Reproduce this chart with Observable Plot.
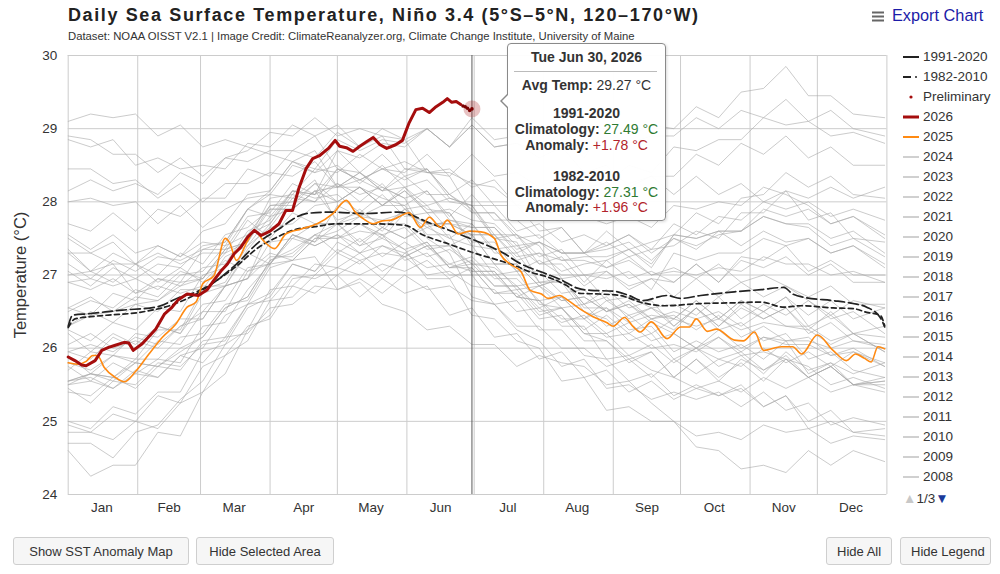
<!DOCTYPE html>
<html>
<head>
<meta charset="utf-8">
<script src="https://cdn.jsdelivr.net/npm/d3@7"></script>
<script src="https://cdn.jsdelivr.net/npm/@observablehq/plot@0.6"></script>
<style>
  body { margin: 0; background: #fff; font-family: "Liberation Sans", Arial, Helvetica, sans-serif; color: #333; }
  #page { position: relative; width: 1000px; height: 574px; overflow: hidden; }
  #chart { position: absolute; left: 0; top: 0; }
  .title { position: absolute; left: 68px; top: 5px; font-size: 18px; font-weight: bold; color: #222; letter-spacing: 1.62px; white-space: nowrap; }
  .subtitle { position: absolute; left: 68px; top: 30px; font-size: 11.3px; color: #333; white-space: nowrap; }
  .export { position: absolute; left: 872px; top: 6px; font-size: 16.3px; color: #1c1ca8; white-space: nowrap; }
  .export svg { vertical-align: -1px; margin-right: 8px; }
  .ylabel { position: absolute; left: 20px; top: 275px; transform: translate(-50%, -50%) rotate(-90deg); font-size: 16.5px; color: #333; white-space: nowrap; }
  .legend { position: absolute; left: 903px; top: 47px; font-size: 13.5px; color: #333; }
  .legend .row { height: 20px; line-height: 20px; white-space: nowrap; }
  .legend svg { vertical-align: middle; margin-right: 4px; }
  .pager { position: absolute; left: 903px; top: 491px; font-size: 13.5px; color: #333; white-space: nowrap; }
  .tip { position: absolute; left: 507px; top: 43px; width: 157px; height: 176px; background: rgba(255,255,255,0.96);
         border: 1px solid #8a8a8a; border-radius: 4px; box-shadow: 1px 1px 3px rgba(0,0,0,0.15); }
  .tip .ln { position: absolute; left: 0; width: 157px; text-align: center; font-size: 14px; white-space: nowrap; color: #333; }
  .tip b { color: #333; }
  .tip .hr { position: absolute; left: 6px; width: 143px; top: 27px; border-top: 1px solid #bbb; }
  .arrow { position: absolute; left: 500px; top: 93px; width: 0; height: 0; border-top: 8px solid transparent; border-bottom: 8px solid transparent; border-right: 8px solid #8a8a8a; }
  .arrow2 { position: absolute; left: 502px; top: 94px; width: 0; height: 0; border-top: 7px solid transparent; border-bottom: 7px solid transparent; border-right: 7px solid #fff; }
  .btn { position: absolute; top: 537px; height: 28px; line-height: 28px; padding: 0 10px; background: #f6f6f6; border: 1px solid #cfcfcf;
         border-radius: 3px; font-size: 13px; color: #333; white-space: nowrap; box-sizing: border-box; text-align: center; }
</style>
</head>
<body>
<div id="page">
  <div id="chart"></div>
  <div class="title">Daily Sea Surface Temperature, Niño 3.4 (5°S–5°N, 120–170°W)</div>
  <div class="subtitle">Dataset: NOAA OISST V2.1 | Image Credit: ClimateReanalyzer.org, Climate Change Institute, University of Maine</div>
  <div class="export"><svg width="12" height="11"><rect x="0" y="0.5" width="12" height="2" fill="#666"/><rect x="0" y="4.5" width="12" height="2" fill="#666"/><rect x="0" y="8.5" width="12" height="2" fill="#666"/></svg>Export Chart</div>
  <div class="ylabel">Temperature (°C)</div>
  <div class="legend" id="legend"></div>
  <div class="pager"><span style="color:#c8c8c8">▲</span>1/3<span style="color:#1a3a9a">▼</span></div>
  <div class="arrow"></div>
  <div class="tip" id="tip"></div>
  <div class="arrow2"></div>
  <div class="btn" style="left:13px; width:176px">Show SST Anomaly Map</div>
  <div class="btn" style="left:196px; width:138px">Hide Selected Area</div>
  <div class="btn" style="left:826px; width:66px">Hide All</div>
  <div class="btn" style="left:900px; width:91px">Hide Legend</div>
</div>
<script>
// ---- Axis ticks (day of year, Jan 1 = 0) ----
const monthStarts = [0, 31, 59, 90, 120, 151, 181, 212, 243, 273, 304, 334, 365];
const monthMids = [15, 45, 74, 105, 135, 166, 196, 227, 258, 288, 319, 349];
const monthNames = ["Jan", "Feb", "Mar", "Apr", "May", "Jun", "Jul", "Aug", "Sep", "Oct", "Nov", "Dec"];
const tempTicks = [24, 25, 26, 27, 28, 29, 30];

// ---- 2026 (current year, through Jun 30; last days preliminary) ----
const days2026 = [0, 3, 6, 8, 12, 15, 18, 21, 25, 27, 29, 33, 39, 43, 46, 49, 53, 58, 62, 65, 68, 71, 74, 77, 80, 83, 86, 90, 94, 97, 100, 103, 106, 109, 112, 116, 119, 121, 124, 127, 130, 133, 136, 139, 142, 146, 149, 152, 155, 158, 161, 164, 167, 169, 171, 173, 175, 176, 177, 178, 179, 180];
const sst2026 = [25.88, 25.83, 25.77, 25.76, 25.83, 25.97, 26.01, 26.04, 26.08, 26.07, 25.97, 26.06, 26.26, 26.47, 26.55, 26.66, 26.74, 26.72, 26.8, 26.93, 27.05, 27.15, 27.29, 27.38, 27.52, 27.61, 27.54, 27.6, 27.7, 27.88, 27.88, 28.2, 28.45, 28.59, 28.63, 28.73, 28.84, 28.76, 28.74, 28.69, 28.76, 28.82, 28.88, 28.78, 28.73, 28.78, 28.84, 29.08, 29.26, 29.28, 29.22, 29.3, 29.36, 29.41, 29.36, 29.37, 29.33, 29.31, 29.3, 29.28, 29.25, 29.27];
const preliminaryFrom = 176;

// ---- 2025 ----
const days2025 = [0, 4, 8, 11, 13, 16, 21, 25, 30, 36, 42, 48, 53, 57, 60, 65, 70, 72, 75, 80, 83, 87, 92, 97, 104, 111, 118, 124, 128, 132, 136, 140, 144, 152, 157, 161, 166, 169, 174, 179, 184, 190, 193, 197, 202, 206, 211, 214, 219, 223, 229, 234, 240, 243, 248, 252, 255, 260, 267, 273, 277, 280, 285, 289, 297, 301, 306, 310, 318, 323, 327, 334, 341, 347, 351, 355, 358, 361, 364];
const sst2025 = [25.8, 25.78, 25.82, 25.9, 25.9, 25.74, 25.6, 25.54, 25.68, 25.92, 26.15, 26.33, 26.56, 26.63, 26.88, 26.99, 27.5, 27.44, 27.2, 27.47, 27.61, 27.47, 27.36, 27.56, 27.63, 27.7, 27.84, 28.02, 27.86, 27.76, 27.7, 27.74, 27.75, 27.85, 27.65, 27.79, 27.65, 27.75, 27.56, 27.6, 27.59, 27.5, 27.27, 27.15, 27.04, 26.79, 26.74, 26.68, 26.72, 26.65, 26.52, 26.43, 26.35, 26.3, 26.42, 26.29, 26.22, 26.36, 26.13, 26.29, 26.29, 26.4, 26.23, 26.26, 26.11, 26.1, 26.22, 25.97, 26.02, 26.02, 25.92, 26.18, 25.97, 25.83, 25.92, 25.86, 25.81, 26.02, 25.99];

// ---- Climatologies ----
const daysClim9120 = [0, 2, 9, 24, 39, 50, 58, 65, 75, 85, 95, 100, 106, 117, 132, 147, 162, 180, 194, 202, 211, 220, 227, 233, 243, 250, 256, 267, 273, 282, 297, 309, 319, 323, 329, 341, 350, 356, 362, 364];
const clim9120 = [26.3, 26.45, 26.47, 26.52, 26.56, 26.7, 26.78, 26.9, 27.15, 27.45, 27.65, 27.76, 27.84, 27.86, 27.84, 27.86, 27.7, 27.49, 27.3, 27.15, 27.04, 26.93, 26.82, 26.79, 26.78, 26.72, 26.65, 26.72, 26.68, 26.72, 26.77, 26.8, 26.83, 26.74, 26.69, 26.65, 26.61, 26.56, 26.42, 26.29];
const daysClim8210 = [0, 3, 10, 17, 32, 47, 57, 65, 75, 85, 92, 101, 110, 120, 134, 150, 158, 170, 180, 192, 199, 206, 214, 222, 228, 237, 246, 256, 266, 282, 297, 309, 319, 327, 341, 350, 356, 362, 364];
const clim8210 = [26.28, 26.4, 26.43, 26.45, 26.49, 26.6, 26.74, 26.9, 27.12, 27.38, 27.5, 27.62, 27.66, 27.7, 27.7, 27.68, 27.55, 27.42, 27.31, 27.2, 27.13, 27.04, 26.97, 26.86, 26.75, 26.74, 26.72, 26.62, 26.58, 26.61, 26.62, 26.63, 26.56, 26.58, 26.55, 26.54, 26.49, 26.45, 26.31];

// ---- Earlier years, sampled every 10 days (last sample Dec 31) ----
const greyDays = [0, 10, 20, 30, 40, 50, 60, 70, 80, 90, 100, 110, 120, 130, 140, 150, 160, 170, 180, 190, 200, 210, 220, 230, 240, 250, 260, 270, 280, 290, 300, 310, 320, 330, 340, 350, 364];
const sst1982 = [26.3,26.45,26.5,26.6,26.65,26.85,26.95,27.3,27.45,28.05,28.1,28.45,28.4,28.65,28.45,28.55,28.4,28.45,28.2,28.3,27.95,28.15,27.9,28.2,28.25,28.5,28.4,28.75,28.7,28.85,28.85,29.15,29.05,29.1,28.9,28.95,28.8];
const sst1983 = [28.85,28.75,28.85,28.5,28.6,28.45,28.5,28.45,28.8,28.75,29.05,28.9,29.05,28.75,28.9,28.45,28.45,28.1,27.9,27.5,27.45,26.9,26.9,26.5,26.4,26.1,26.2,25.85,26.0,25.75,25.9,25.65,25.95,25.7,25.8,25.65,25.8];
const sst1984 = [25.7,25.95,25.9,26.2,26.15,26.4,26.4,26.85,26.95,27.25,27.25,27.55,27.3,27.5,27.25,27.45,27.25,27.35,27.15,27.1,26.85,26.9,26.65,26.7,26.5,26.6,26.35,26.2,26.0,26.15,25.9,25.95,25.85,25.75,25.5,25.6,25.45];
const sst1985 = [25.45,25.25,25.55,25.5,25.8,25.75,26.05,26.1,26.6,26.65,27.0,26.95,27.1,27.0,27.15,27.05,27.2,26.95,27.1,26.75,26.8,26.45,26.55,26.25,26.45,26.2,26.4,26.25,26.55,26.3,26.55,26.4,26.55,26.2,26.35,26.1,26.0];
const sst1986 = [25.95,26.05,25.95,26.15,26.05,26.3,26.4,26.85,26.95,27.45,27.5,27.7,27.7,27.8,27.75,27.85,27.65,27.75,27.65,27.65,27.35,27.45,27.3,27.3,27.4,27.55,27.35,27.7,27.55,27.8,27.75,28.0,27.9,28.0,27.8,27.9,27.75];
const sst1987 = [27.7,27.6,27.85,27.6,27.9,27.8,28.05,28.05,28.45,28.35,28.7,28.6,28.95,28.75,29.0,28.85,29.0,28.75,29.05,28.75,28.8,28.6,28.75,28.4,28.5,28.2,28.35,28.1,28.35,28.1,28.25,28.0,28.15,27.75,27.85,27.5,27.45];
const sst1988 = [27.3,27.3,27.15,27.15,26.9,27.1,26.9,27.2,27.05,27.3,27.2,27.25,26.8,26.9,26.6,26.5,26.25,26.3,26.05,26.05,25.75,25.9,25.8,25.75,25.5,25.55,25.25,25.0,24.65,24.6,24.35,24.4,24.3,24.6,24.4,24.6,24.45];
const sst1989 = [24.6,24.25,24.4,24.4,24.85,24.8,25.4,25.65,26.25,26.45,26.95,27.0,27.3,27.15,27.4,27.25,27.4,27.15,27.25,26.95,26.95,26.65,26.7,26.4,26.65,26.45,26.55,26.4,26.65,26.4,26.65,26.5,26.7,26.45,26.65,26.4,26.55];
const sst1990 = [26.5,26.65,26.55,26.8,26.7,27.0,27.05,27.4,27.55,27.95,27.95,28.25,28.0,28.2,27.95,28.15,27.85,27.9,27.75,27.7,27.4,27.45,27.2,27.2,27.1,27.2,27.0,27.05,27.0,27.1,27.05,27.25,27.15,27.15,27.0,27.05,26.9];
const sst1991 = [26.9,26.8,26.95,26.75,26.95,26.85,27.1,27.15,27.6,27.75,28.15,28.1,28.45,28.3,28.45,28.3,28.45,28.1,28.3,27.95,27.95,27.6,27.65,27.3,27.45,27.25,27.35,27.4,27.6,27.5,27.85,27.85,28.15,28.05,28.2,28.05,28.2];
const sst1992 = [28.15,28.3,28.15,28.25,28.1,28.4,28.25,28.6,28.7,28.95,28.9,29.15,28.9,29.0,28.9,28.85,28.4,28.35,27.85,27.85,27.55,27.4,26.95,27.0,26.65,26.7,26.55,26.6,26.45,26.7,26.4,26.6,26.45,26.65,26.45,26.65,26.55];
const sst1993 = [26.55,26.45,26.75,26.65,26.95,26.9,27.35,27.45,27.9,28.1,28.5,28.4,28.7,28.4,28.65,28.35,28.45,28.05,27.95,27.55,27.55,27.25,27.35,27.0,27.05,26.85,26.95,26.7,26.95,26.7,26.9,26.7,26.85,26.7,26.85,26.6,26.6];
const sst1994 = [26.55,26.7,26.5,26.7,26.65,26.9,26.95,27.35,27.45,27.95,28.0,28.25,28.2,28.4,28.15,28.35,28.1,28.1,27.85,27.85,27.5,27.55,27.3,27.3,27.35,27.45,27.2,27.5,27.4,27.55,27.6,27.9,27.8,27.9,27.7,27.8,27.55];
const sst1995 = [27.55,27.35,27.55,27.3,27.4,27.25,27.45,27.4,27.9,27.8,28.15,28.05,28.1,27.85,28.1,27.8,27.85,27.5,27.4,27.0,27.05,26.6,26.55,26.2,26.1,25.8,25.95,25.6,25.85,25.55,25.85,25.7,25.85,25.6,25.75,25.5,25.55];
const sst1996 = [25.5,25.65,25.6,25.8,25.75,25.95,26.15,26.55,26.7,27.2,27.3,27.55,27.5,27.6,27.55,27.65,27.35,27.4,27.15,27.15,26.8,26.85,26.55,26.6,26.3,26.45,26.2,26.4,26.3,26.4,26.25,26.35,26.3,26.3,26.1,26.2,25.95];
const sst1997 = [25.95,25.85,26.15,26.0,26.3,26.2,26.75,26.85,27.35,27.7,28.15,28.1,28.7,28.6,28.8,28.75,29.0,28.75,29.15,28.85,28.9,28.7,28.95,28.65,28.95,28.8,28.9,28.9,29.15,29.0,29.25,29.15,29.4,29.1,29.25,29.0,28.9];
const sst1998 = [28.9,28.85,28.65,28.65,28.4,28.6,28.35,28.6,28.55,28.7,28.7,28.9,28.45,28.4,28.2,28.05,27.5,27.3,26.7,26.6,26.25,26.1,25.75,25.85,25.45,25.5,25.3,25.4,25.3,25.4,25.2,25.4,25.15,25.25,24.95,25.05,24.95];
const sst1999 = [24.95,24.85,25.1,25.0,25.35,25.25,25.75,25.9,26.3,26.4,26.85,26.75,27.0,26.7,26.95,26.75,26.85,26.45,26.55,26.15,26.2,25.85,25.95,25.6,25.7,25.4,25.55,25.3,25.45,25.35,25.5,25.2,25.35,24.9,25.0,24.85,24.8];
const sst2000 = [24.7,24.7,24.5,24.85,24.95,25.3,25.55,26.05,26.25,26.8,26.85,27.15,27.1,27.3,27.05,27.25,27.0,27.05,26.85,26.8,26.5,26.55,26.35,26.45,26.2,26.35,26.1,26.2,26.0,26.25,26.0,26.15,26.05,26.05,25.9,25.95,25.8];
const sst2001 = [25.8,25.7,25.9,25.8,26.1,26.05,26.5,26.5,27.05,27.15,27.55,27.45,27.7,27.45,27.65,27.5,27.7,27.4,27.55,27.15,27.15,26.85,26.95,26.6,26.7,26.4,26.55,26.3,26.55,26.3,26.6,26.4,26.55,26.25,26.5,26.2,26.3];
const sst2002 = [26.3,26.5,26.35,26.6,26.5,26.8,26.8,27.25,27.4,27.8,27.9,28.15,28.2,28.4,28.15,28.45,28.4,28.4,28.25,28.2,27.95,27.95,27.8,27.8,27.7,27.8,27.65,27.95,27.9,28.0,27.95,28.2,28.1,27.95,27.7,27.8,27.5];
const sst2003 = [27.5,27.3,27.45,27.15,27.3,27.15,27.3,27.3,27.75,27.5,27.85,27.7,27.7,27.4,27.65,27.5,27.65,27.5,27.7,27.35,27.4,27.15,27.25,26.9,27.2,26.95,27.05,26.9,27.15,26.9,27.2,27.1,27.25,27.0,27.15,26.9,26.9];
const sst2004 = [26.9,26.95,26.85,26.95,26.8,27.05,26.95,27.35,27.45,27.9,27.9,28.15,28.0,28.2,27.95,28.2,27.95,28.05,27.95,27.95,27.6,27.7,27.45,27.55,27.4,27.55,27.3,27.5,27.35,27.6,27.4,27.6,27.45,27.5,27.3,27.4,27.15];
const sst2005 = [27.15,26.95,27.2,27.05,27.25,27.2,27.35,27.35,27.8,27.85,28.25,28.1,28.25,28.0,28.25,27.9,27.95,27.6,27.55,27.15,27.15,26.85,26.95,26.6,26.8,26.55,26.65,26.3,26.55,26.25,26.35,26.1,26.2,25.85,25.95,25.7,25.6];
const sst2006 = [25.55,25.65,25.55,25.8,25.75,26.0,26.15,26.55,26.7,27.2,27.35,27.55,27.7,27.9,27.65,27.9,27.7,27.7,27.55,27.55,27.25,27.3,27.2,27.25,27.25,27.35,27.15,27.55,27.5,27.6,27.6,27.8,27.7,27.7,27.5,27.6,27.3];
const sst2007 = [27.35,27.05,27.15,26.75,26.85,26.75,26.85,26.85,27.3,27.15,27.5,27.4,27.55,27.3,27.55,27.2,27.3,27.0,27.0,26.6,26.65,26.25,26.25,25.9,25.85,25.55,25.65,25.35,25.5,25.35,25.45,25.2,25.35,25.0,25.15,24.85,24.9];
const sst2008 = [24.85,24.85,24.75,25.0,24.9,25.25,25.4,25.9,26.1,26.65,26.7,27.0,27.0,27.2,26.95,27.3,27.1,27.15,27.05,27.05,26.7,26.85,26.65,26.7,26.5,26.65,26.4,26.45,26.25,26.45,26.15,26.3,26.1,26.15,25.9,26.0,25.75];
const sst2009 = [25.75,25.55,25.8,25.65,25.85,25.8,26.3,26.35,26.8,27.15,27.55,27.45,27.95,27.8,27.95,27.95,28.15,27.8,28.1,27.75,27.75,27.5,27.65,27.3,27.6,27.35,27.45,27.55,27.85,27.7,28.05,28.1,28.4,28.2,28.35,28.1,28.05];
const sst2010 = [28.0,28.05,27.95,28.0,27.7,27.95,27.65,27.9,28.05,28.1,28.05,28.3,27.7,27.7,27.55,27.35,26.95,26.95,26.45,26.4,26.1,26.0,25.55,25.6,25.15,25.2,25.0,25.0,24.8,24.85,24.75,24.95,24.85,24.9,24.7,24.8,24.75];
const sst2011 = [25.0,24.9,25.2,25.1,25.4,25.4,25.95,26.05,26.55,26.7,27.15,27.05,27.35,27.2,27.3,27.25,27.4,27.1,27.1,26.75,26.75,26.4,26.45,26.1,26.1,25.85,25.95,25.6,25.85,25.6,25.8,25.55,25.85,25.6,25.75,25.5,25.6];
const sst2012 = [25.55,25.65,25.6,25.85,25.85,26.15,26.2,26.6,26.65,27.15,27.2,27.5,27.5,27.7,27.5,27.85,27.7,27.7,27.65,27.65,27.3,27.45,27.3,27.3,27.1,27.25,27.0,27.1,26.95,27.15,26.9,27.0,26.85,26.65,26.4,26.5,26.2];
const sst2013 = [26.2,25.95,26.2,26.05,26.3,26.2,26.6,26.65,27.1,27.15,27.55,27.4,27.55,27.4,27.5,27.35,27.45,27.1,27.15,26.85,26.85,26.55,26.7,26.4,26.55,26.35,26.45,26.4,26.65,26.4,26.65,26.5,26.7,26.3,26.45,26.2,26.15];
const sst2014 = [26.05,26.2,26.0,26.1,26.0,26.3,26.5,26.85,26.95,27.65,27.7,27.95,28.0,28.2,27.95,28.15,27.9,27.85,27.45,27.45,27.05,27.2,27.0,27.0,26.95,27.05,26.8,27.3,27.2,27.3,27.3,27.5,27.4,27.5,27.3,27.4,27.1];
const sst2015 = [27.05,26.85,27.1,26.95,27.15,27.1,27.4,27.45,27.9,28.15,28.55,28.45,28.85,28.7,28.85,28.8,29.0,28.75,29.05,28.75,28.8,28.7,28.95,28.6,29.05,28.9,29.05,29.0,29.3,29.15,29.5,29.55,29.85,29.45,29.45,29.2,29.15];
const sst2016 = [29.1,29.2,29.15,29.2,28.9,29.05,28.75,28.85,28.75,28.65,28.55,28.7,28.2,28.2,28.05,27.95,27.55,27.55,27.0,27.0,26.7,26.65,26.4,26.4,26.15,26.2,26.0,26.05,25.95,26.15,25.95,26.15,26.1,26.1,26.0,26.1,26.05];
const sst2017 = [26.25,26.1,26.35,26.25,26.55,26.5,27.0,27.1,27.55,27.7,28.1,28.0,28.25,28.1,28.2,28.05,28.15,27.75,27.7,27.3,27.3,26.9,26.95,26.55,26.55,26.25,26.3,25.95,26.1,25.95,26.05,25.85,26.1,25.65,25.8,25.5,25.55];
const sst2018 = [25.55,25.6,25.45,25.7,25.6,25.9,26.0,26.45,26.6,27.1,27.2,27.5,27.6,27.8,27.6,27.9,27.7,27.7,27.55,27.55,27.2,27.3,27.05,27.15,27.2,27.35,27.1,27.55,27.5,27.6,27.6,27.8,27.7,27.65,27.4,27.5,27.25];
const sst2019 = [27.3,27.05,27.3,27.15,27.4,27.25,27.6,27.7,28.1,28.15,28.55,28.4,28.5,28.25,28.5,28.2,28.3,28.0,27.95,27.5,27.55,27.15,27.15,26.85,27.05,26.8,26.95,26.9,27.15,26.9,27.25,27.2,27.4,27.05,27.2,27.0,27.0];
const sst2020 = [27.0,27.05,26.9,27.15,27.0,27.3,27.15,27.55,27.65,27.9,27.9,28.15,27.75,27.85,27.7,27.7,27.4,27.4,27.05,27.05,26.7,26.65,26.3,26.3,25.85,25.9,25.7,25.6,25.45,25.55,25.4,25.6,25.45,25.6,25.4,25.5,25.4];
const sst2021 = [25.4,25.35,25.6,25.45,25.75,25.7,26.1,26.15,26.6,26.75,27.15,27.05,27.45,27.3,27.4,27.3,27.45,27.1,27.2,26.85,26.85,26.5,26.55,26.2,26.2,25.9,26.05,25.8,26.0,25.85,25.95,25.7,25.9,25.6,25.75,25.5,25.5];
const sst2022 = [25.5,25.55,25.45,25.65,25.6,25.9,25.8,26.15,26.2,26.55,26.6,26.85,26.8,26.95,26.75,27.0,26.8,26.85,26.65,26.6,26.3,26.3,26.0,26.0,25.75,25.85,25.6,25.85,25.65,25.85,25.75,26.0,25.8,25.95,25.75,25.95,25.75];
const sst2023 = [25.9,25.65,25.9,25.85,26.25,26.25,26.8,26.9,27.4,27.65,28.05,28.0,28.45,28.3,28.45,28.4,28.65,28.35,28.65,28.35,28.4,28.2,28.35,28.05,28.4,28.25,28.35,28.35,28.65,28.5,28.8,28.65,28.9,28.6,28.75,28.5,28.5];
const sst2024 = [28.45,28.45,28.25,28.3,28.05,28.25,28.0,28.25,28.25,28.4,28.35,28.55,28.2,28.3,28.15,28.2,27.85,27.85,27.4,27.35,27.05,27.05,26.75,26.8,26.5,26.6,26.4,26.5,26.4,26.5,26.3,26.5,26.3,26.25,26.05,26.2,25.95];

const greyYears = [1982, 1983, 1984, 1985, 1986, 1987, 1988, 1989, 1990, 1991, 1992, 1993, 1994, 1995, 1996, 1997, 1998, 1999, 2000, 2001, 2002, 2003, 2004, 2005, 2006, 2007, 2008, 2009, 2010, 2011, 2012, 2013, 2014, 2015, 2016, 2017, 2018, 2019, 2020, 2021, 2022, 2023, 2024];
const greySeries = [sst1982, sst1983, sst1984, sst1985, sst1986, sst1987, sst1988, sst1989, sst1990, sst1991, sst1992, sst1993, sst1994, sst1995, sst1996, sst1997, sst1998, sst1999, sst2000, sst2001, sst2002, sst2003, sst2004, sst2005, sst2006, sst2007, sst2008, sst2009, sst2010, sst2011, sst2012, sst2013, sst2014, sst2015, sst2016, sst2017, sst2018, sst2019, sst2020, sst2021, sst2022, sst2023, sst2024];

// Legend entries shown on the first page
const legendYears = [2024, 2023, 2022, 2021, 2020, 2019, 2018, 2017, 2016, 2015, 2014, 2013, 2012, 2011, 2010, 2009, 2008];

// ---- Build tables ----
const pairs = (days, vals) => days.map((day, i) => ({day, t: vals[i]})).filter(d => d.t != null);
const greyRows = greyYears.flatMap((year, k) =>
  greyDays.map((day, i) => ({year, day, t: greySeries[k][i]})).filter(d => d.t != null));
const rows2025 = pairs(days2025, sst2025);
const all2026 = pairs(days2026, sst2026);
const line2026 = all2026.filter(d => d.day < preliminaryFrom);
const prelim2026 = all2026.filter(d => d.day >= preliminaryFrom);
const rowsClim9120 = pairs(daysClim9120, clim9120);
const rowsClim8210 = pairs(daysClim8210, clim8210);
const lastPoint = all2026[all2026.length - 1];

const red = "#a50d0d";
const orange = "#ff8a12";

const chart = Plot.plot({
  width: 1000,
  height: 525,
  marginTop: 55,
  marginBottom: 31,
  marginLeft: 67.7,
  marginRight: 113.6,
  x: {domain: [0, 365]},
  y: {domain: [24, 30]},
  style: {fontFamily: '"Liberation Sans", Arial, Helvetica, sans-serif', color: "#333", background: "transparent", overflow: "visible"},
  marks: [
    Plot.ruleY(tempTicks, {stroke: "#cccccc", strokeWidth: 1}),
    Plot.ruleX(monthStarts, {y1: 24, y2: 30, stroke: "#cccccc", strokeWidth: 1}),
    Plot.line(greyRows, {x: "day", y: "t", z: "year", stroke: "#a8a8a8", strokeOpacity: 0.6, strokeWidth: 1}),
    Plot.line(rowsClim8210, {x: "day", y: "t", stroke: "#222", strokeWidth: 1.7, strokeDasharray: "5,3.5", curve: "monotone-x"}),
    Plot.line(rowsClim9120, {x: "day", y: "t", stroke: "#222", strokeWidth: 1.7, strokeDasharray: "10,4", curve: "monotone-x"}),
    Plot.line(rows2025, {x: "day", y: "t", stroke: orange, strokeWidth: 1.6, curve: "monotone-x"}),
    Plot.ruleX([lastPoint.day], {y1: 24, y2: 30, stroke: "#5a5a5a", strokeWidth: 1}),
    Plot.line(line2026, {x: "day", y: "t", stroke: red, strokeWidth: 3}),
    Plot.dot([lastPoint], {x: "day", y: "t", r: 8.5, fill: red, fillOpacity: 0.25, stroke: "none"}),
    Plot.dot(prelim2026, {x: "day", y: "t", r: 1.8, fill: "#7a0000", stroke: "none"}),
    Plot.axisY(tempTicks, {tickSize: 0, tickPadding: 11, fontSize: 13.5, label: null, tickFormat: d => String(d)}),
    Plot.axisX(monthMids, {tickSize: 0, tickPadding: 8, fontSize: 13.5, label: null,
      tickFormat: d => monthNames[monthMids.indexOf(d)]})
  ]
});
document.getElementById("chart").appendChild(chart);

// ---- Legend ----
const sw = (inner) => `<svg width="16" height="10">${inner}</svg>`;
const legendItems = [
  {label: "1991-2020", icon: sw('<line x1="0" x2="16" y1="5" y2="5" stroke="#222" stroke-width="2"/>')},
  {label: "1982-2010", icon: sw('<line x1="0" x2="8" y1="5" y2="5" stroke="#222" stroke-width="2"/><circle cx="13" cy="5" r="1" fill="#222"/>')},
  {label: "Preliminary", icon: sw(`<circle cx="8" cy="5" r="1.6" fill="${red}"/>`)},
  {label: "2026", icon: sw(`<line x1="0" x2="16" y1="5" y2="5" stroke="${red}" stroke-width="3"/>`)},
  {label: "2025", icon: sw(`<line x1="0" x2="16" y1="5" y2="5" stroke="${orange}" stroke-width="2"/>`)},
  ...legendYears.map(y => ({label: String(y), icon: sw('<line x1="0" x2="16" y1="5" y2="5" stroke="#d0d0d0" stroke-width="2"/>')}))
];
document.getElementById("legend").innerHTML = legendItems.map(d => `<div class="row">${d.icon}${d.label}</div>`).join("");

// ---- Tooltip for the last day ----
const clim9120At = rowsClim9120.find(d => d.day === lastPoint.day).t;
const clim8210At = rowsClim8210.find(d => d.day === lastPoint.day).t;
const fmt = v => v.toFixed(2);
const sign = v => (v >= 0 ? "+" : "") + v.toFixed(2);
const dateText = d3.utcFormat("%a %b %d, %Y")(new Date(Date.UTC(2026, 0, 1 + lastPoint.day)));
const green = "#2f7a32", anomRed = "#b2232b";
const tipLines = [
  {top: 5, html: `<b>${dateText}</b>`},
  {top: 33, html: `<b>Avg Temp:</b> ${fmt(lastPoint.t)} °C`},
  {top: 61, html: `<b>1991-2020</b>`},
  {top: 77, html: `<b>Climatology:</b> <span style="color:${green}">${fmt(clim9120At)} °C</span>`},
  {top: 93, html: `<b>Anomaly:</b> <span style="color:${anomRed}">${sign(lastPoint.t - clim9120At)} °C</span>`},
  {top: 124, html: `<b>1982-2010</b>`},
  {top: 140, html: `<b>Climatology:</b> <span style="color:${green}">${fmt(clim8210At)} °C</span>`},
  {top: 155, html: `<b>Anomaly:</b> <span style="color:${anomRed}">${sign(lastPoint.t - clim8210At)} °C</span>`}
];
document.getElementById("tip").innerHTML = `<div class="hr"></div>` +
  tipLines.map(d => `<div class="ln" style="top:${d.top}px">${d.html}</div>`).join("");
</script>
</body>
</html>
